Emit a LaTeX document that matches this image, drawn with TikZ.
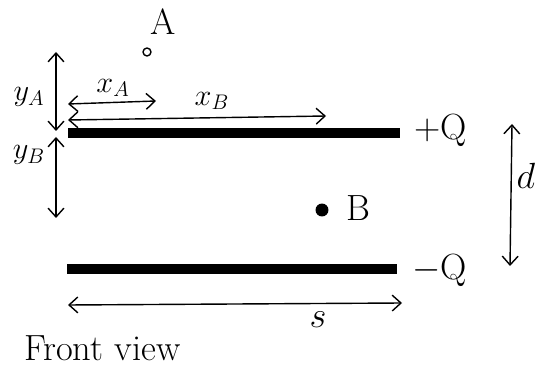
\documentclass[tikz,border=0pt]{standalone}
\usepackage{tikz}
\usetikzlibrary{arrows.meta}

\begin{document}
\begin{tikzpicture}[
  x=0.02cm, y=-0.02cm,
  plate/.style={line width=5.5pt},
  dim/.style={thick,{Straight Barb[length=5pt,width=9pt]}-{Straight Barb[length=5pt,width=9pt]}},
  lbl/.style={font=\huge},
  sublbl/.style={font=\LARGE}
]
  \useasboundingbox (0,0) rectangle (537,367);
  % plates
  \coordinate (top1) at (68,133);
  \coordinate (top2) at (400,133);
  \coordinate (bot1) at (67,269);
  \coordinate (bot2) at (397,269);
  \draw[plate] (top1) -- (top2);
  \draw[plate] (bot1) -- (bot2);
  \node[lbl,anchor=west] (qplus) at (408,130) {+Q};
  \node[lbl,anchor=west] (qminus) at (406,270) {$-$Q};
  % points
  \node[circle,draw,thick,inner sep=1.6pt] (ptA) at (147,52) {};
  \node[lbl] (labA) at (163,22) {A};
  \node[circle,fill,inner sep=2.6pt] (ptB) at (322,210) {};
  \node[lbl] (labB) at (358,208) {B};
  % heights
  \coordinate (ya1) at (56,52);
  \coordinate (ya2) at (56,131);
  \coordinate (yb1) at (56,137);
  \coordinate (yb2) at (56,218);
  \draw[dim] (ya1) -- (ya2);
  \draw[dim] (yb1) -- (yb2);
  \node[sublbl] (labya) at (29,97) {$y_A$};
  \node[sublbl] (labyb) at (29,155) {$y_B$};
  % distances along plate
  \coordinate (xa1) at (68,104);
  \coordinate (xa2) at (156,101);
  \coordinate (xb1) at (68,120);
  \coordinate (xb2) at (326,116);
  \draw[dim] (xa1) -- (xa2);
  \draw[dim] (xb1) -- (xb2);
  \node[sublbl] (labxa) at (113,88) {$x_A$};
  \node[sublbl] (labxb) at (212,101) {$x_B$};
  % gap and width
  \coordinate (d1) at (512,124);
  \coordinate (d2) at (510,266);
  \draw[dim] (d1) -- (d2);
  \node[lbl,inner sep=1pt] (labd) at (526,176) {$d$};
  \coordinate (s1) at (68,305);
  \coordinate (s2) at (402,303);
  \draw[dim] (s1) -- (s2);
  \node[lbl] (labs) at (318,320) {$s$};
  \node[lbl,anchor=west] (caption) at (18,348) {Front view};
\end{tikzpicture}
\end{document}
